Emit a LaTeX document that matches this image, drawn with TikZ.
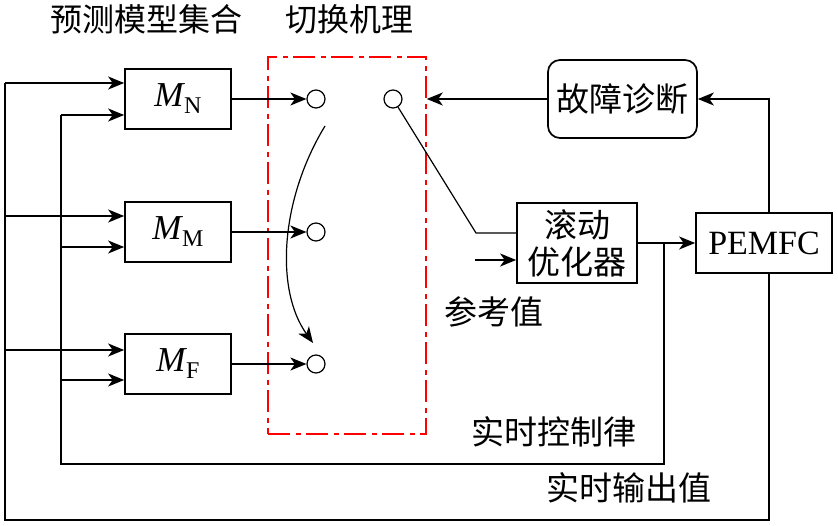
\documentclass[tikz,border=0pt]{standalone}
\usepackage{fontspec}
\setmainfont{Liberation Serif}
\newfontfamily\cjk{Noto Sans CJK SC}
\usetikzlibrary{arrows.meta}
\newcommand\Msub[1]{\textit{M}\kern-1pt\raisebox{-7pt}{\fontsize{24}{24}\selectfont #1}}
\begin{document}
\begin{tikzpicture}[x=1pt,y=-1pt,
  line width=1.7pt,
  mbox/.style={draw,rectangle,inner sep=0pt,minimum width=106pt,minimum height=60pt,font=\fontsize{35}{36}\selectfont},
  port/.style={draw,circle,line width=1.2pt,minimum size=18pt,inner sep=0pt},
  lbl/.style={font=\cjk\fontsize{33}{36}\selectfont,inner sep=0pt},
  arr/.style={-{Stealth[length=16pt,width=13pt,inset=4.5pt]}},
  thin/.style={line width=1.2pt},
]
\useasboundingbox (0,0) rectangle (838,525);

% titles
\node[lbl,font=\cjk\fontsize{32}{36}\selectfont] (t1) at (146.5,19) {预测模型集合};
\node[lbl,font=\cjk\fontsize{32}{36}\selectfont] (t2) at (349,19) {切换机理};

% model boxes
\node[mbox] (MN) at (178,99) {\Msub{N}};
\node[mbox] (MM) at (178,232) {\Msub{M}};
\node[mbox] (MF) at (178,364) {\Msub{F}};

% switch frame
\node[draw=red,line width=1.5pt,dash pattern=on 22pt off 5.5pt on 5pt off 5.5pt,
      minimum width=158pt,minimum height=377pt,inner sep=0pt] (sw) at (347,245.5) {};

% ports
\node[port] (cN) at (316,99) {};
\node[port] (cR) at (393,99) {};
\node[port] (cM) at (316,232) {};
\node[port] (cF) at (316,364) {};

% right blocks
\node[draw,rectangle,rounded corners=12pt,minimum width=149pt,minimum height=78pt,inner sep=0pt,lbl] (fd) at (622.5,99) {故障诊断};
\node[draw,rectangle,minimum width=120pt,minimum height=80pt,inner sep=0pt,lbl,align=center,font=\cjk\fontsize{33}{37}\selectfont] (ro) at (577,243) {滚动\\优化器};
\node[draw,rectangle,minimum width=136pt,minimum height=60pt,inner sep=0pt,font=\fontsize{34}{36}\selectfont] (pem) at (764,243) {PEMFC};

% labels
\node[lbl] (ref) at (494,312) {参考值};
\node[lbl] (ctl) at (554,432) {实时控制律};
\node[lbl] (out) at (629,488) {实时输出值};

% coordinates
\coordinate (j) at (664,243);
\coordinate (ib) at (61,464);
\coordinate (ob) at (5,520);
\coordinate (pb) at (769,520);
\coordinate (pt) at (769,213);
\coordinate (kn) at (476,233);
\coordinate (rin) at (475,260);
\coordinate (cs) at (325,126);
\coordinate (ce) at (313,343);

% model outputs to ports
\draw[arr] (MN.east) -- (cN.west);
\draw[arr] (MM.east) -- (cM.west);
\draw[arr] (MF.east) -- (cF.west);

% switching curve
\draw[arr,thin] (cs) .. controls (280,200) and (275,290) .. (ce);

% selected port to optimizer
\draw[thin] (cR) -- (kn) -- (kn -| ro.west);
\draw[arr] (rin) -- (rin -| ro.west);

% optimizer to PEMFC
\draw[arr] (ro.east) -- (pem.west);

% fault diagnosis
\draw[arr] (pt) |- (fd.east);
\draw[arr] (fd.west) -- (fd.west -| sw.east);

% inner loop (control law)
\draw (j) |- (ib) -- (ib |- 0,115);
\draw[arr] (ib |- 0,115) -- (MN.west |- 0,115);
\draw[arr] (ib |- 0,247) -- (MM.west |- 0,247);
\draw[arr] (ib |- 0,380) -- (MF.west |- 0,380);

% outer loop (output)
\draw (pem.south -| pb) -- (pb) -- (ob) -- (ob |- 0,83);
\draw[arr] (ob |- 0,83) -- (MN.west |- 0,83);
\draw[arr] (ob |- 0,216) -- (MM.west |- 0,216);
\draw[arr] (ob |- 0,350) -- (MF.west |- 0,350);
\end{tikzpicture}
\end{document}
